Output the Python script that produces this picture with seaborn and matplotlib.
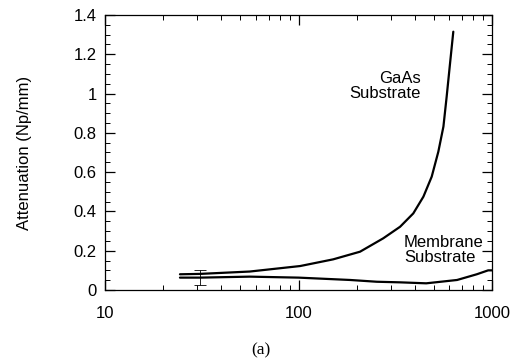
import numpy as np
import pandas as pd
import matplotlib
matplotlib.use("Agg")
import matplotlib.pyplot as plt
import seaborn as sns
from matplotlib.ticker import FixedLocator, FixedFormatter, NullFormatter, LogLocator

gaas_freq = [24.4, 31, 56, 102, 151, 208, 274, 335, 392, 442, 488, 528, 561, 583, 607, 631]
gaas_att = [0.080, 0.082, 0.094, 0.122, 0.156, 0.195, 0.263, 0.322, 0.39, 0.475,
            0.577, 0.704, 0.832, 0.984, 1.154, 1.315]

mem_freq = [24.4, 31, 56, 100, 185, 254, 335, 457, 660, 834, 955, 1000]
mem_att = [0.063, 0.063, 0.068, 0.063, 0.051, 0.042, 0.039, 0.034, 0.051, 0.080, 0.100, 0.100]

err_x = [31]
err_y = [0.064]
err_lo = [0.026]
err_hi = [0.102]

x_ticks = [10, 100, 1000]
x_labels = ["10", "100", "1000"]
y_ticks = [0, 0.2, 0.4, 0.6, 0.8, 1.0, 1.2, 1.4]
y_labels = ["0", "0.2", "0.4", "0.6", "0.8", "1", "1.2", "1.4"]

df = pd.concat([
    pd.DataFrame({"freq": gaas_freq, "att": gaas_att, "series": "GaAs"}),
    pd.DataFrame({"freq": mem_freq, "att": mem_att, "series": "Membrane"}),
])

sns.set_style("ticks")
plt.rcParams["font.family"] = ["Liberation Sans", "DejaVu Sans"]
plt.rcParams["text.color"] = "black"
plt.rcParams["axes.labelcolor"] = "black"

fig = plt.figure(figsize=(5.16, 3.64), dpi=100)
ax = fig.add_axes([105/516, 1-290/364, (492-105)/516, (290-15)/364])

sns.lineplot(data=df, x="freq", y="att", hue="series", palette=["black", "black"],
             linewidth=1.6, legend=False, ax=ax, sort=False)

ax.errorbar(err_x, err_y,
            yerr=[[err_y[0]-err_lo[0]], [err_hi[0]-err_y[0]]],
            fmt="none", ecolor="black", elinewidth=0.6, capsize=4, capthick=0.6)

ax.set_xscale("log")
ax.set_xlim(10, 1000)
ax.set_ylim(0, 1.4)
ax.xaxis.set_major_locator(FixedLocator(x_ticks))
ax.xaxis.set_major_formatter(FixedFormatter(x_labels))
ax.xaxis.set_minor_locator(LogLocator(base=10, subs=np.arange(2, 10), numticks=20))
ax.xaxis.set_minor_formatter(NullFormatter())
ax.yaxis.set_major_locator(FixedLocator(y_ticks))
ax.yaxis.set_major_formatter(FixedFormatter(y_labels))
ax.yaxis.set_minor_locator(FixedLocator(list(np.arange(0, 1.401, 0.05))))

ax.set_xlabel("")
ax.set_ylabel("Attenuation (Np/mm)", fontsize=12, labelpad=30, color="black")

ax.text(428, 1.052, "GaAs", ha="right", va="baseline", fontsize=12, color="black")
ax.text(428, 0.976, "Substrate", ha="right", va="baseline", fontsize=12, color="black")
ax.text(351, 0.2205, "Membrane", ha="left", va="baseline", fontsize=12, color="black")
ax.text(351, 0.141, "Substrate", ha="left", va="baseline", fontsize=12, color="black")

fig.text(261/516, 1-350/364, "(a)", ha="center", va="center", fontsize=12.5,
         family="Liberation Serif", color="black")

ax.tick_params(axis="both", which="both", direction="in", top=True, right=True,
               bottom=True, left=True, colors="black", labelsize=12)
ax.tick_params(axis="x", which="major", length=7, width=0.9, pad=11.5)
ax.tick_params(axis="y", which="major", length=7, width=0.9, pad=6)
ax.tick_params(axis="both", which="minor", length=3.5, width=0.7)
for s in ax.spines.values():
    s.set_visible(True)
    s.set_linewidth(0.9)
    s.set_color("black")

fig.savefig("out.png", dpi=100)
